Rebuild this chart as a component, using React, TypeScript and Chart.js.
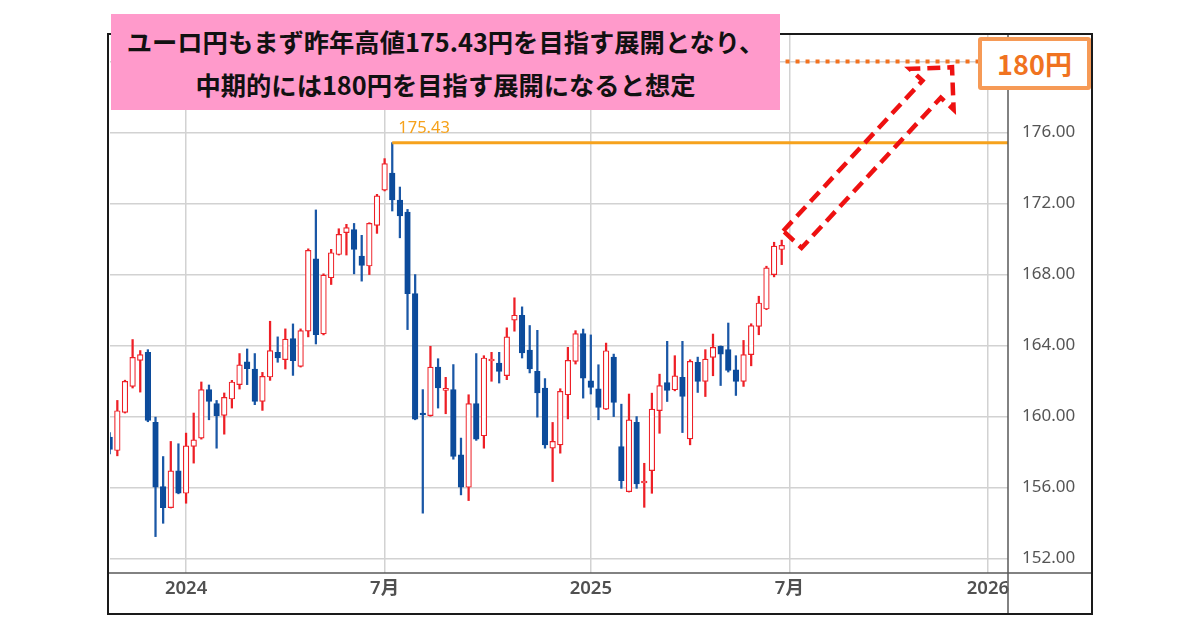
import React, { useEffect, useRef } from "react";
import { Chart, registerables } from "chart.js";

Chart.register(...registerables);

// Weekly EUR/JPY candles (index 0 = first visible week, index 10 = first week of 2024)
const OPEN = [
  158.85, 158.09, 160.24, 161.7, 163.17, 163.62, 159.67, 156.06, 154.87, 156.94,
  155.68, 158.32, 158.79, 161.52, 160.73, 160.07, 160.99, 161.8, 163.08, 162.68,
  160.86, 162.23, 163.62, 163.21, 164.39, 162.83, 164.81, 168.89, 164.66, 167.82,
  169.13, 170.36, 170.54, 169.04, 168.48, 170.77, 172.75, 173.71, 172.2, 171.52,
  166.93, 160.2, 160.05, 162.79, 161.48, 161.52, 157.85, 156.02, 160.73, 158.92,
  163.13, 163.02, 162.31, 165.43, 165.71, 163.74, 162.55, 161.61, 158.22, 158.41,
  161.23, 163.11, 164.67, 162.02, 161.57, 160.42, 163.35, 158.31, 155.77, 159.67,
  156.26, 156.96, 160.34, 161.92, 161.51, 162.21, 158.74, 163.05, 161.98, 163.33,
  163.96, 163.77, 162.64, 161.98, 163.49, 165.08, 166.06, 168.0, 169.41,
];
const HIGH = [
  159.1, 160.91, 162.05, 164.34, 163.72, 163.77, 159.97, 157.75, 158.6, 158.47,
  159.07, 160.2, 161.95, 161.78, 160.91, 161.33, 162.04, 163.55, 163.81, 163.55,
  162.49, 165.37, 164.49, 164.94, 165.22, 164.94, 169.45, 171.64, 168.04, 169.42,
  170.58, 170.83, 170.88, 170.21, 170.92, 172.52, 174.53, 175.43, 172.93, 171.67,
  168.0, 161.52, 163.96, 163.26, 162.21, 162.93, 158.79, 161.23, 163.55, 163.43,
  163.62, 163.62, 165.0, 166.69, 166.18, 165.13, 164.86, 162.14, 159.67, 161.57,
  163.9, 164.84, 164.93, 164.6, 162.92, 164.14, 163.52, 160.7, 161.27, 160.0,
  157.37, 161.32, 162.39, 164.24, 163.43, 164.24, 163.2, 163.35, 163.77, 164.65,
  163.98, 165.27, 163.43, 164.29, 165.23, 166.78, 168.47, 169.82, 169.94,
];
const LOW = [
  157.9, 157.79, 160.2, 161.61, 161.38, 159.71, 153.24, 153.99, 154.85, 155.65,
  155.12, 157.38, 158.73, 159.82, 158.22, 159.01, 160.48, 161.55, 161.8, 160.67,
  160.35, 162.04, 163.06, 162.68, 162.32, 162.79, 164.49, 164.09, 164.6, 167.44,
  169.1, 169.1, 168.04, 167.63, 168.0, 170.32, 172.71, 171.58, 170.07, 164.9,
  159.82, 154.56, 160.02, 160.48, 160.16, 157.6, 155.59, 155.27, 158.66, 158.22,
  161.99, 161.89, 162.08, 164.81, 163.3, 162.46, 159.97, 158.22, 156.34, 157.94,
  159.87, 162.96, 161.04, 161.27, 159.82, 160.4, 160.0, 155.96, 155.75, 155.96,
  154.89, 155.68, 159.06, 160.85, 161.45, 159.1, 158.41, 161.36, 161.13, 162.3,
  161.75, 162.51, 161.19, 161.7, 162.86, 164.61, 166.02, 167.87, 168.56,
];
const CLOSE = [
  158.15, 160.33, 161.99, 163.34, 163.49, 159.78, 156.02, 154.87, 156.94, 155.68,
  158.35, 158.69, 161.52, 160.86, 160.05, 161.08, 161.95, 162.91, 162.7, 160.86,
  162.27, 163.72, 163.3, 164.37, 163.15, 164.84, 169.36, 164.62, 167.97, 169.23,
  170.26, 170.64, 169.42, 168.51, 170.88, 172.43, 174.25, 172.2, 171.3, 166.93,
  159.86, 160.09, 162.79, 161.61, 161.55, 157.75, 156.02, 160.73, 158.73, 163.3,
  163.21, 162.55, 164.49, 165.71, 163.58, 162.68, 161.33, 158.41, 158.6, 161.42,
  163.17, 164.67, 162.17, 161.64, 160.51, 163.71, 160.8, 156.39, 159.82, 156.21,
  156.34, 160.42, 161.75, 161.47, 162.3, 161.13, 163.11, 161.98, 163.24, 163.9,
  163.52, 162.6, 161.98, 163.49, 165.12, 166.4, 168.38, 169.6, 169.64,
];

const X_TICK_POS = [10, 36, 63, 89, 115];
const X_TICK_LABELS = ["2024", "7月", "2025", "7月", "2026"];
const Y_TICKS = [152, 156, 160, 164, 168, 172, 176, 180];
const X_MIN = 0.04;
const X_MAX = 117.63;
const Y_MIN = 151.19;
const Y_MAX = 181.55;

const PEAK_INDEX = 37;
const PEAK_VALUE = 175.43;
const TARGET_VALUE = 180;
const TARGET_START = 88.5;
const ARROW_FROM = [89.4, 169.98];
const ARROW_TO = [110.3, 179.68];

const TITLE_LINES = [
  "ユーロ円もまず昨年高値175.43円を目指す展開となり、",
  "中期的には180円を目指す展開になると想定",
];
const TARGET_LABEL = "180円";

const RED = "#ee1f26";
const BLUE = "#0c4b9b";
const BLUE_WICK = "#1a57a6";
const GRID = "#d2d2d2";
const PEAK_ORANGE = "#f6a21c";
const TARGET_ORANGE = "#f2711f";

const SANS = "'Noto Sans', 'Noto Sans CJK JP', sans-serif";

const overlayPlugin = {
  id: "overlay",
  afterDatasetsDraw(chart: any) {
    const { ctx } = chart;
    const x = chart.scales.x;
    const y = chart.scales.y;
    ctx.save();
    // peak label
    ctx.font = `16.5px ${SANS}`;
    ctx.fillStyle = PEAK_ORANGE;
    ctx.textBaseline = "alphabetic";
    ctx.textAlign = "left";
    ctx.fillText(
      PEAK_VALUE.toFixed(2),
      x.getPixelForValue(PEAK_INDEX) + 6,
      y.getPixelForValue(PEAK_VALUE) - 10
    );
    // dashed block arrow
    const tx = x.getPixelForValue(ARROW_FROM[0]);
    const ty = y.getPixelForValue(ARROW_FROM[1]);
    const hx = x.getPixelForValue(ARROW_TO[0]);
    const hy = y.getPixelForValue(ARROW_TO[1]);
    const dx = hx - tx;
    const dy = hy - ty;
    const len = Math.hypot(dx, dy);
    const ux = dx / len;
    const uy = dy / len;
    const nx = uy;
    const ny = -ux;
    const hw = 12.5;
    const headBack = 30;
    const headW = 30;
    const ex = hx - ux * headBack;
    const ey = hy - uy * headBack;
    const pts = [
      [tx + nx * hw, ty + ny * hw],
      [ex + nx * hw, ey + ny * hw],
      [ex + nx * headW, ey + ny * headW],
      [hx, hy],
      [ex - nx * headW, ey - ny * headW],
      [ex - nx * hw, ey - ny * hw],
      [tx - nx * hw, ty - ny * hw],
    ];
    ctx.beginPath();
    ctx.moveTo(pts[0][0], pts[0][1]);
    for (let i = 1; i < pts.length; i++) ctx.lineTo(pts[i][0], pts[i][1]);
    ctx.closePath();
    ctx.setLineDash([13, 7]);
    ctx.lineWidth = 4.5;
    ctx.lineJoin = "miter";
    ctx.strokeStyle = "#ee1111";
    ctx.stroke();
    ctx.restore();
  },
  afterDraw(chart: any) {
    const { ctx, chartArea } = chart;
    const x = chart.scales.x;
    const y = chart.scales.y;
    ctx.save();
    ctx.setLineDash([]);
    const left = chartArea.left - 2;
    const right = y.right;
    const top = chartArea.top;
    const bottom = x.bottom;
    ctx.strokeStyle = "#5a5a5a";
    ctx.lineWidth = 1.5;
    ctx.beginPath();
    ctx.moveTo(chartArea.right, top);
    ctx.lineTo(chartArea.right, bottom);
    ctx.moveTo(left, chartArea.bottom);
    ctx.lineTo(right, chartArea.bottom);
    ctx.stroke();
    ctx.strokeStyle = "#1a1a1a";
    ctx.lineWidth = 2;
    ctx.strokeRect(left, top, right - left, bottom - top);
    ctx.restore();
  },
};

export default function App() {
  const ref = useRef<HTMLCanvasElement | null>(null);

  useEffect(() => {
    if (!ref.current) return;
    const idx = OPEN.map((_, i) => i);
    const up = idx.map((i) => CLOSE[i] >= OPEN[i]);
    const chart = new Chart(ref.current, {
      type: "bar",
      data: {
        datasets: [
          {
            type: "line",
            data: [
              { x: PEAK_INDEX, y: PEAK_VALUE },
              { x: X_MAX, y: PEAK_VALUE },
            ],
            borderColor: PEAK_ORANGE,
            borderWidth: 3,
            pointRadius: 0,
            order: 0,
          } as any,
          {
            type: "line",
            data: [
              { x: TARGET_START, y: TARGET_VALUE },
              { x: X_MAX, y: TARGET_VALUE },
            ],
            borderColor: TARGET_ORANGE,
            borderWidth: 4,
            borderDash: [4, 6],
            borderCapStyle: "butt",
            pointRadius: 0,
            order: 0,
          } as any,
          {
            type: "bar",
            data: idx.map((i) => ({ x: i, y: [OPEN[i], CLOSE[i]] })),
            backgroundColor: up.map((u) => (u ? "#ffffff" : BLUE)),
            borderColor: up.map((u) => (u ? RED : BLUE)),
            borderWidth: 1.2,
            borderSkipped: false,
            barThickness: 5.6,
            minBarLength: 2,
            grouped: false,
            order: 1,
          } as any,
          {
            type: "bar",
            data: idx.map((i) => ({ x: i, y: [LOW[i], HIGH[i]] })),
            backgroundColor: up.map((u) => (u ? RED : BLUE_WICK)),
            borderWidth: 0,
            barThickness: 1.6,
            grouped: false,
            order: 2,
          } as any,
        ],
      },
      options: {
        animation: false,
        responsive: false,
        devicePixelRatio: 1,
        layout: { padding: { left: 110, top: 34, right: 108, bottom: 16 } },
        plugins: { legend: { display: false }, tooltip: { enabled: false } },
        scales: {
          x: {
            type: "linear",
            min: X_MIN,
            max: X_MAX,
            offset: false,
            grid: { offset: false, color: GRID, lineWidth: 1.5, drawTicks: false },
            border: { display: false },
            afterBuildTicks: (s: any) => {
              s.ticks = X_TICK_POS.map((v) => ({ value: v }));
            },
            afterFit: (s: any) => {
              s.height = 41;
            },
            ticks: {
              autoSkip: false,
              maxRotation: 0,
              padding: 5,
              color: "#505050",
              font: { family: SANS, size: 18.5, weight: "600" },
              callback: (v: any) => {
                const k = X_TICK_POS.indexOf(Number(v));
                return k >= 0 ? X_TICK_LABELS[k] : "";
              },
            },
          },
          y: {
            type: "linear",
            position: "right",
            min: Y_MIN,
            max: Y_MAX,
            grid: { color: GRID, lineWidth: 1.5, drawTicks: false },
            border: { display: false },
            afterBuildTicks: (s: any) => {
              s.ticks = Y_TICKS.map((v) => ({ value: v }));
            },
            afterFit: (s: any) => {
              s.width = 84;
            },
            ticks: {
              padding: 14,
              color: "#555555",
              font: { family: SANS, size: 17 },
              callback: (v: any) => Number(v).toFixed(2),
            },
          },
        },
      } as any,
      plugins: [overlayPlugin],
    });
    return () => chart.destroy();
  }, []);

  return (
    <div
      style={{
        position: "absolute",
        left: 0,
        top: 0,
        width: 1200,
        height: 630,
        background: "#ffffff",
        overflow: "hidden",
      }}
    >
      <canvas ref={ref} width={1200} height={630} style={{ position: "absolute", left: 0, top: 0 }} />
      <div
        style={{
          position: "absolute",
          left: 111,
          top: 14,
          width: 669,
          height: 96,
          background: "#ff9acb",
          fontFamily: "'Noto Sans CJK JP', sans-serif",
          fontWeight: 700,
          fontSize: 25.3,
          color: "#111",
          textAlign: "center",
        }}
      >
        <div style={{ position: "absolute", left: 0, right: 0, top: 12, lineHeight: "30px", whiteSpace: "nowrap" }}>
          {TITLE_LINES[0]}
        </div>
        <div style={{ position: "absolute", left: 0, right: 0, top: 55, lineHeight: "30px", whiteSpace: "nowrap" }}>
          {TITLE_LINES[1]}
        </div>
      </div>
      <div
        style={{
          position: "absolute",
          left: 978,
          top: 37,
          width: 113,
          height: 53,
          boxSizing: "border-box",
          border: "4px solid #f69a56",
          borderRadius: 3,
          background: "#ffffff",
          color: "#f07320",
          fontFamily: "'Noto Sans CJK JP', sans-serif",
          fontWeight: 700,
          fontSize: 27,
          lineHeight: "45px",
          textAlign: "center",
        }}
      >
        {TARGET_LABEL}
      </div>
    </div>
  );
}
